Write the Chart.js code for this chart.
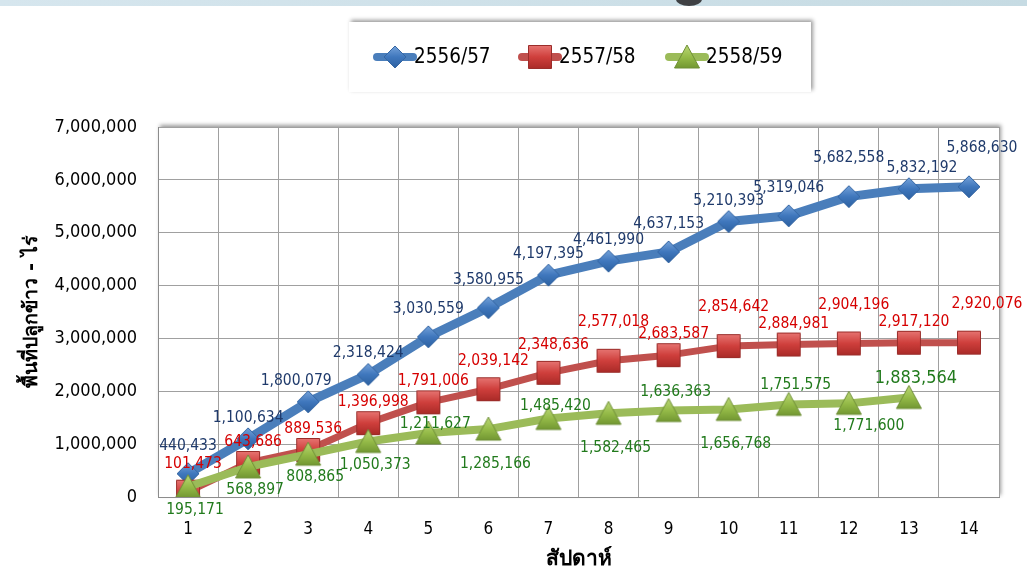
<!DOCTYPE html>
<html><head><meta charset="utf-8">
<script src="https://cdn.jsdelivr.net/npm/chart.js@4.4.1/dist/chart.umd.min.js"></script>
<style>
html,body{margin:0;padding:0;background:#fff;}
#wrap{position:relative;width:1027px;height:575px;overflow:hidden;}
#band{position:absolute;left:0;top:0;width:1027px;height:6px;background:linear-gradient(to right,#d6e6ee,#c6dbe3);}
#blob{position:absolute;left:676px;top:-7px;width:26px;height:13px;border-radius:50%;background:#3f4144;}
canvas{position:absolute;left:0;top:0;}
</style></head><body>
<div id="wrap"><canvas id="c" width="1027" height="575"></canvas><div id="band"></div><div id="blob"></div></div>
<script>
// ---- data ----
const weeks = ['1','2','3','4','5','6','7','8','9','10','11','12','13','14'];
const seriesNames = ['2556/57','2557/58','2558/59'];
const area5657 = [440433,1100634,1800079,2318424,3030559,3580955,4197395,4461990,4637153,5210393,5319046,5682558,5832192,5868630];
const area5758 = [101473,643686,889536,1396998,1791006,2039142,2348636,2577018,2683587,2854642,2884981,2904196,2917120,2920076];
const area5859 = [195171,568897,808865,1050373,1211627,1285166,1485420,1582465,1636363,1656768,1751575,1771600,1883564];
const yMin = 0, yMax = 7000000, yStep = 1000000;
const yTitle = 'พื้นที่ปลูกข้าว - ไร่';
const xTitle = 'สัปดาห์';
// label placement codes (above/below levels, optional shift)
const labelPos5657 = ['T2','T1','T1L','T1','T2','T2','T1','T1','T2','T1','T2','T3','T1R','T3R'];
const labelPos5758 = ['T2','T1','T1','T1','T1','T2','T2','T3','T1','T3','T1','T3','T1','T3R'];
const labelPos5859 = ['B1','B1','B1','B1','U0','B2','U1','B2','U2','B2','U2','B1R','U2+'];

// ---- styling ----
const FONT = '"DejaVu Sans Condensed", "DejaVu Sans", sans-serif';
const TFONT = '"DejaVu Sans", "Noto Sans", sans-serif';
function makeMarker(shape, light, mid, dark, edge){
  const c = document.createElement('canvas');
  c.width = 28; c.height = 28;
  const g = c.getContext('2d');
  const cx = 14, cy = 14;
  g.beginPath();
  if (shape === 'diamond'){ const r = 11; g.moveTo(cx,cy-r); g.lineTo(cx+r,cy); g.lineTo(cx,cy+r); g.lineTo(cx-r,cy); }
  else if (shape === 'square'){ const s = 11.5; g.rect(cx-s,cy-s,2*s,2*s); }
  else { g.moveTo(cx,cy-12); g.lineTo(cx+12.5,cy+11); g.lineTo(cx-12.5,cy+11); }
  g.closePath();
  const gr = g.createLinearGradient(0,cy-12,0,cy+12);
  gr.addColorStop(0,light); gr.addColorStop(0.5,mid); gr.addColorStop(1,dark);
  g.fillStyle = gr; g.fill();
  g.lineWidth = 1; g.strokeStyle = edge; g.stroke();
  return c;
}
const mkBlue = makeMarker('diamond','#7aa6dc','#3f77bd','#2c5f9e','#3566a3');
const mkRed = makeMarker('square','#e77673','#cf3f3c','#a82a27','#9a2d2a');
const mkGreen = makeMarker('triangle','#bcd878','#95bb48','#6f9430','#6f8f37');

const fmt = v => v.toLocaleString('en-US');
const offsets = {T1:-21,T2:-28,T3:-39,B1:23,B2:35,U0:-9,U1:-13,U2:-19};
const shifts = {L:-12, LL:-34, R:13};

const bgPlugin = {
  id:'bg',
  beforeDraw(chart){
    const {ctx, chartArea:a} = chart;
    ctx.save();
    ctx.shadowColor='rgba(0,0,0,0.4)'; ctx.shadowBlur=4; ctx.shadowOffsetX=2; ctx.shadowOffsetY=-2;
    ctx.fillStyle='#fff';
    ctx.fillRect(349,22,462,70);
    ctx.fillRect(a.left,a.top,a.right-a.left,a.bottom-a.top);
    ctx.restore();
  },
  afterDraw(chart){
    const ctx = chart.ctx;
    const lx = [395,540,687];
    ctx.save();
    chart.data.datasets.forEach((ds,i)=>{
      const x = lx[i], y = 57;
      ctx.strokeStyle = ds.borderColor; ctx.lineWidth = 8; ctx.lineCap='round';
      ctx.beginPath(); ctx.moveTo(x-18,y); ctx.lineTo(x+18,y); ctx.stroke();
      const m = ds.pointStyle;
      ctx.drawImage(m, x-m.width/2, y-m.height/2);
      ctx.fillStyle='#000'; ctx.font='20.5px '+FONT; ctx.textAlign='left'; ctx.textBaseline='middle';
      ctx.fillText(ds.label, x+19, y+1);
    });
    ctx.restore();
  }
};
const labelPlugin = {
  id:'vlabels',
  afterDatasetsDraw(chart){
    const ctx = chart.ctx;
    ctx.save();
    ctx.textAlign='center'; ctx.textBaseline='middle';
    chart.data.datasets.forEach((ds,d)=>{
      const meta = chart.getDatasetMeta(d);
      meta.data.forEach((pt,i)=>{
        const m = ds.labelPos[i].match(/^([TBU]\d)(LL|L|R)?(\+)?$/);
        const dy = offsets[m[1]];
        const dx = (shifts[m[2]]||0) + ds.labelDx;
        ctx.font = (m[3] ? '18px ' : '15.5px ') + FONT;
        ctx.fillStyle = ds.labelColor;
        ctx.fillText(fmt(ds.data[i]), pt.x+dx, pt.y+dy);
      });
    });
    ctx.restore();
  }
};

new Chart(document.getElementById('c'), {
  type:'line',
  data:{
    labels: weeks,
    datasets:[
      {label:seriesNames[0], data:area5657, borderColor:'#4a7ebb', borderWidth:9, pointStyle:mkBlue, pointRadius:10, order:3,
       labelPos:labelPos5657, labelColor:'#1f3a6b', labelDx:0},
      {label:seriesNames[1], data:area5758, borderColor:'#c0504d', borderWidth:7, pointStyle:mkRed, pointRadius:10, order:2,
       labelPos:labelPos5758, labelColor:'#d60000', labelDx:5},
      {label:seriesNames[2], data:area5859, borderColor:'#9bbb59', borderWidth:8, pointStyle:mkGreen, pointRadius:10, order:1,
       labelPos:labelPos5859, labelColor:'#217a1c', labelDx:7}
    ].map(d=>Object.assign({tension:0, fill:false, borderJoinStyle:'round', borderCapStyle:'round'}, d))
  },
  options:{
    responsive:false, animation:false,
    layout:{padding:{top:127,right:28,left:0,bottom:0}},
    plugins:{legend:{display:false}, tooltip:{enabled:false}},
    scales:{
      x:{
        offset:true,
        grid:{offset:true, color:'#a0a0a0', lineWidth:1, drawTicks:false},
        border:{color:'#8c8c8c'},
        ticks:{font:{family:FONT, size:17}, color:'#000', padding:22},
        title:{display:true, text:xTitle, font:{family:TFONT, size:21, weight:'bold'}, color:'#000', padding:{top:0,bottom:3}},
        afterFit(s){ s.height = 78; }
      },
      y:{
        min:yMin, max:yMax,
        grid:{color:'#a0a0a0', lineWidth:1, drawTicks:false},
        border:{color:'#8c8c8c'},
        ticks:{stepSize:yStep, font:{family:FONT, size:18}, color:'#000', padding:21, callback:v=>fmt(v)},
        title:{display:true, text:yTitle, font:{family:TFONT, size:19.5, weight:'bold'}, color:'#000', padding:{top:20,bottom:0}},
        afterFit(s){ s.width = 158; }
      }
    }
  },
  plugins:[bgPlugin, labelPlugin]
});
</script>
</body></html>
